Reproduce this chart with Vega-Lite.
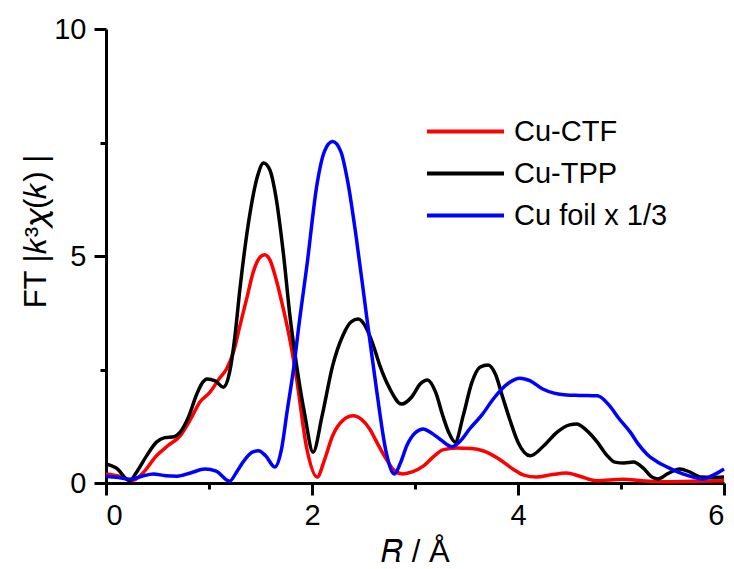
{
  "$schema": "https://vega.github.io/schema/vega-lite/v6.json",
  "width": 618,
  "height": 454,
  "padding": {"left": 20, "top": 15, "right": 0, "bottom": 0},
  "config": {
    "view": {"stroke": null},
    "font": "Liberation Sans",
    "axis": {"grid": false, "domainColor": "black", "tickColor": "black", "domainWidth": 3, "tickWidth": 3, "labelColor": "black", "titleColor": "black", "labelFont": "Liberation Sans", "titleFont": "Liberation Sans", "titleFontWeight": "normal"}
  },
  "data": {"values": [
      {"series": "Cu-CTF", "r": 0, "ft": 0.2},
      {"series": "Cu-CTF", "r": 0.13, "ft": 0.15},
      {"series": "Cu-CTF", "r": 0.26, "ft": 0.06},
      {"series": "Cu-CTF", "r": 0.35, "ft": 0.2},
      {"series": "Cu-CTF", "r": 0.49, "ft": 0.6},
      {"series": "Cu-CTF", "r": 0.6, "ft": 0.82},
      {"series": "Cu-CTF", "r": 0.72, "ft": 1.04},
      {"series": "Cu-CTF", "r": 0.82, "ft": 1.4},
      {"series": "Cu-CTF", "r": 0.91, "ft": 1.78},
      {"series": "Cu-CTF", "r": 1.01, "ft": 2.0},
      {"series": "Cu-CTF", "r": 1.1, "ft": 2.3},
      {"series": "Cu-CTF", "r": 1.17, "ft": 2.51},
      {"series": "Cu-CTF", "r": 1.24, "ft": 2.9},
      {"series": "Cu-CTF", "r": 1.3, "ft": 3.46},
      {"series": "Cu-CTF", "r": 1.37, "ft": 4.1},
      {"series": "Cu-CTF", "r": 1.43, "ft": 4.65},
      {"series": "Cu-CTF", "r": 1.49, "ft": 4.96},
      {"series": "Cu-CTF", "r": 1.54, "ft": 5.03},
      {"series": "Cu-CTF", "r": 1.59, "ft": 4.92},
      {"series": "Cu-CTF", "r": 1.65, "ft": 4.5},
      {"series": "Cu-CTF", "r": 1.72, "ft": 3.85},
      {"series": "Cu-CTF", "r": 1.79, "ft": 3.1},
      {"series": "Cu-CTF", "r": 1.85, "ft": 2.3},
      {"series": "Cu-CTF", "r": 1.95, "ft": 0.75},
      {"series": "Cu-CTF", "r": 2.05, "ft": 0.13},
      {"series": "Cu-CTF", "r": 2.12, "ft": 0.5},
      {"series": "Cu-CTF", "r": 2.2, "ft": 1.04},
      {"series": "Cu-CTF", "r": 2.3, "ft": 1.38},
      {"series": "Cu-CTF", "r": 2.4, "ft": 1.48},
      {"series": "Cu-CTF", "r": 2.48, "ft": 1.4},
      {"series": "Cu-CTF", "r": 2.56, "ft": 1.19},
      {"series": "Cu-CTF", "r": 2.64, "ft": 0.85},
      {"series": "Cu-CTF", "r": 2.72, "ft": 0.53},
      {"series": "Cu-CTF", "r": 2.8, "ft": 0.27},
      {"series": "Cu-CTF", "r": 2.88, "ft": 0.2},
      {"series": "Cu-CTF", "r": 2.98, "ft": 0.25},
      {"series": "Cu-CTF", "r": 3.08, "ft": 0.37},
      {"series": "Cu-CTF", "r": 3.18, "ft": 0.58},
      {"series": "Cu-CTF", "r": 3.27, "ft": 0.73},
      {"series": "Cu-CTF", "r": 3.4, "ft": 0.77},
      {"series": "Cu-CTF", "r": 3.55, "ft": 0.76},
      {"series": "Cu-CTF", "r": 3.66, "ft": 0.71},
      {"series": "Cu-CTF", "r": 3.8, "ft": 0.55},
      {"series": "Cu-CTF", "r": 3.95, "ft": 0.31},
      {"series": "Cu-CTF", "r": 4.05, "ft": 0.18},
      {"series": "Cu-CTF", "r": 4.18, "ft": 0.13},
      {"series": "Cu-CTF", "r": 4.32, "ft": 0.18},
      {"series": "Cu-CTF", "r": 4.47, "ft": 0.22},
      {"series": "Cu-CTF", "r": 4.6, "ft": 0.15},
      {"series": "Cu-CTF", "r": 4.76, "ft": 0.05},
      {"series": "Cu-CTF", "r": 5.02, "ft": 0.08},
      {"series": "Cu-CTF", "r": 5.2, "ft": 0.05},
      {"series": "Cu-CTF", "r": 5.44, "ft": 0.03},
      {"series": "Cu-CTF", "r": 5.7, "ft": 0.04},
      {"series": "Cu-CTF", "r": 6.0, "ft": 0.05},
      {"series": "Cu-TPP", "r": 0, "ft": 0.42},
      {"series": "Cu-TPP", "r": 0.1, "ft": 0.33},
      {"series": "Cu-TPP", "r": 0.23, "ft": 0.05},
      {"series": "Cu-TPP", "r": 0.3, "ft": 0.25},
      {"series": "Cu-TPP", "r": 0.4, "ft": 0.62},
      {"series": "Cu-TPP", "r": 0.49, "ft": 0.9},
      {"series": "Cu-TPP", "r": 0.57, "ft": 1.0},
      {"series": "Cu-TPP", "r": 0.66, "ft": 1.02},
      {"series": "Cu-TPP", "r": 0.72, "ft": 1.12},
      {"series": "Cu-TPP", "r": 0.8, "ft": 1.45},
      {"series": "Cu-TPP", "r": 0.88, "ft": 1.95},
      {"series": "Cu-TPP", "r": 0.94, "ft": 2.22},
      {"series": "Cu-TPP", "r": 0.98, "ft": 2.29},
      {"series": "Cu-TPP", "r": 1.06, "ft": 2.25},
      {"series": "Cu-TPP", "r": 1.14, "ft": 2.11},
      {"series": "Cu-TPP", "r": 1.2, "ft": 2.44},
      {"series": "Cu-TPP", "r": 1.25, "ft": 3.2},
      {"series": "Cu-TPP", "r": 1.3, "ft": 4.27},
      {"series": "Cu-TPP", "r": 1.4, "ft": 5.97},
      {"series": "Cu-TPP", "r": 1.47, "ft": 6.75},
      {"series": "Cu-TPP", "r": 1.53, "ft": 7.05},
      {"series": "Cu-TPP", "r": 1.59, "ft": 6.9},
      {"series": "Cu-TPP", "r": 1.65, "ft": 6.3},
      {"series": "Cu-TPP", "r": 1.72, "ft": 5.1},
      {"series": "Cu-TPP", "r": 1.79, "ft": 3.6},
      {"series": "Cu-TPP", "r": 1.85, "ft": 2.6},
      {"series": "Cu-TPP", "r": 1.93, "ft": 1.5},
      {"series": "Cu-TPP", "r": 2.01, "ft": 0.68},
      {"series": "Cu-TPP", "r": 2.1, "ft": 1.5},
      {"series": "Cu-TPP", "r": 2.2, "ft": 2.58},
      {"series": "Cu-TPP", "r": 2.3, "ft": 3.25},
      {"series": "Cu-TPP", "r": 2.38, "ft": 3.55},
      {"series": "Cu-TPP", "r": 2.45, "ft": 3.61},
      {"series": "Cu-TPP", "r": 2.53, "ft": 3.4},
      {"series": "Cu-TPP", "r": 2.6, "ft": 3.0},
      {"series": "Cu-TPP", "r": 2.66, "ft": 2.58},
      {"series": "Cu-TPP", "r": 2.75, "ft": 2.1},
      {"series": "Cu-TPP", "r": 2.87, "ft": 1.74},
      {"series": "Cu-TPP", "r": 2.97, "ft": 1.9},
      {"series": "Cu-TPP", "r": 3.05, "ft": 2.18},
      {"series": "Cu-TPP", "r": 3.12, "ft": 2.27},
      {"series": "Cu-TPP", "r": 3.2, "ft": 2.0},
      {"series": "Cu-TPP", "r": 3.27, "ft": 1.48},
      {"series": "Cu-TPP", "r": 3.33, "ft": 1.1},
      {"series": "Cu-TPP", "r": 3.39, "ft": 0.9},
      {"series": "Cu-TPP", "r": 3.47, "ft": 1.5},
      {"series": "Cu-TPP", "r": 3.55, "ft": 2.2},
      {"series": "Cu-TPP", "r": 3.63, "ft": 2.55},
      {"series": "Cu-TPP", "r": 3.71, "ft": 2.6},
      {"series": "Cu-TPP", "r": 3.78, "ft": 2.4},
      {"series": "Cu-TPP", "r": 3.85, "ft": 1.9},
      {"series": "Cu-TPP", "r": 3.92, "ft": 1.4},
      {"series": "Cu-TPP", "r": 4.0, "ft": 0.9},
      {"series": "Cu-TPP", "r": 4.12, "ft": 0.6},
      {"series": "Cu-TPP", "r": 4.25, "ft": 0.82},
      {"series": "Cu-TPP", "r": 4.38, "ft": 1.12},
      {"series": "Cu-TPP", "r": 4.5, "ft": 1.28},
      {"series": "Cu-TPP", "r": 4.57, "ft": 1.3},
      {"series": "Cu-TPP", "r": 4.66, "ft": 1.17},
      {"series": "Cu-TPP", "r": 4.77, "ft": 0.9},
      {"series": "Cu-TPP", "r": 4.86, "ft": 0.62},
      {"series": "Cu-TPP", "r": 4.94, "ft": 0.46},
      {"series": "Cu-TPP", "r": 5.03, "ft": 0.44},
      {"series": "Cu-TPP", "r": 5.12, "ft": 0.46},
      {"series": "Cu-TPP", "r": 5.22, "ft": 0.32},
      {"series": "Cu-TPP", "r": 5.3, "ft": 0.13},
      {"series": "Cu-TPP", "r": 5.36, "ft": 0.09},
      {"series": "Cu-TPP", "r": 5.45, "ft": 0.2},
      {"series": "Cu-TPP", "r": 5.57, "ft": 0.31},
      {"series": "Cu-TPP", "r": 5.67, "ft": 0.24},
      {"series": "Cu-TPP", "r": 5.77, "ft": 0.13},
      {"series": "Cu-TPP", "r": 5.88, "ft": 0.12},
      {"series": "Cu-TPP", "r": 6.0, "ft": 0.13},
      {"series": "Cu foil x 1/3", "r": 0, "ft": 0.15},
      {"series": "Cu foil x 1/3", "r": 0.12, "ft": 0.12},
      {"series": "Cu foil x 1/3", "r": 0.23, "ft": 0.08},
      {"series": "Cu foil x 1/3", "r": 0.35, "ft": 0.15},
      {"series": "Cu foil x 1/3", "r": 0.46, "ft": 0.2},
      {"series": "Cu foil x 1/3", "r": 0.58, "ft": 0.16},
      {"series": "Cu foil x 1/3", "r": 0.69, "ft": 0.15},
      {"series": "Cu foil x 1/3", "r": 0.82, "ft": 0.22},
      {"series": "Cu foil x 1/3", "r": 0.96, "ft": 0.31},
      {"series": "Cu foil x 1/3", "r": 1.07, "ft": 0.26},
      {"series": "Cu foil x 1/3", "r": 1.2, "ft": 0.04},
      {"series": "Cu foil x 1/3", "r": 1.27, "ft": 0.25},
      {"series": "Cu foil x 1/3", "r": 1.33, "ft": 0.46},
      {"series": "Cu foil x 1/3", "r": 1.42, "ft": 0.68},
      {"series": "Cu foil x 1/3", "r": 1.48, "ft": 0.71},
      {"series": "Cu foil x 1/3", "r": 1.55, "ft": 0.6},
      {"series": "Cu foil x 1/3", "r": 1.64, "ft": 0.35},
      {"series": "Cu foil x 1/3", "r": 1.7, "ft": 0.7},
      {"series": "Cu foil x 1/3", "r": 1.76, "ft": 1.6},
      {"series": "Cu foil x 1/3", "r": 1.82, "ft": 2.5},
      {"series": "Cu foil x 1/3", "r": 1.88, "ft": 3.6},
      {"series": "Cu foil x 1/3", "r": 1.95, "ft": 4.78},
      {"series": "Cu foil x 1/3", "r": 2.05, "ft": 6.6},
      {"series": "Cu foil x 1/3", "r": 2.12, "ft": 7.3},
      {"series": "Cu foil x 1/3", "r": 2.2, "ft": 7.52},
      {"series": "Cu foil x 1/3", "r": 2.28, "ft": 7.3},
      {"series": "Cu foil x 1/3", "r": 2.35, "ft": 6.6},
      {"series": "Cu foil x 1/3", "r": 2.43, "ft": 5.4},
      {"series": "Cu foil x 1/3", "r": 2.53, "ft": 3.68},
      {"series": "Cu foil x 1/3", "r": 2.63, "ft": 2.0},
      {"series": "Cu foil x 1/3", "r": 2.72, "ft": 0.68},
      {"series": "Cu foil x 1/3", "r": 2.8, "ft": 0.2},
      {"series": "Cu foil x 1/3", "r": 2.86, "ft": 0.45},
      {"series": "Cu foil x 1/3", "r": 2.92, "ft": 0.82},
      {"series": "Cu foil x 1/3", "r": 3.0, "ft": 1.1},
      {"series": "Cu foil x 1/3", "r": 3.08, "ft": 1.19},
      {"series": "Cu foil x 1/3", "r": 3.16, "ft": 1.1},
      {"series": "Cu foil x 1/3", "r": 3.24, "ft": 0.97},
      {"series": "Cu foil x 1/3", "r": 3.36, "ft": 0.8},
      {"series": "Cu foil x 1/3", "r": 3.45, "ft": 0.95},
      {"series": "Cu foil x 1/3", "r": 3.53, "ft": 1.19},
      {"series": "Cu foil x 1/3", "r": 3.65, "ft": 1.5},
      {"series": "Cu foil x 1/3", "r": 3.76, "ft": 1.85},
      {"series": "Cu foil x 1/3", "r": 3.88, "ft": 2.15},
      {"series": "Cu foil x 1/3", "r": 4.02, "ft": 2.31},
      {"series": "Cu foil x 1/3", "r": 4.12, "ft": 2.25},
      {"series": "Cu foil x 1/3", "r": 4.24, "ft": 2.07},
      {"series": "Cu foil x 1/3", "r": 4.35, "ft": 1.98},
      {"series": "Cu foil x 1/3", "r": 4.47, "ft": 1.94},
      {"series": "Cu foil x 1/3", "r": 4.6, "ft": 1.93},
      {"series": "Cu foil x 1/3", "r": 4.77, "ft": 1.92},
      {"series": "Cu foil x 1/3", "r": 4.89, "ft": 1.7},
      {"series": "Cu foil x 1/3", "r": 4.98, "ft": 1.42},
      {"series": "Cu foil x 1/3", "r": 5.09, "ft": 1.12},
      {"series": "Cu foil x 1/3", "r": 5.17, "ft": 0.85},
      {"series": "Cu foil x 1/3", "r": 5.25, "ft": 0.64},
      {"series": "Cu foil x 1/3", "r": 5.35, "ft": 0.47},
      {"series": "Cu foil x 1/3", "r": 5.45, "ft": 0.35},
      {"series": "Cu foil x 1/3", "r": 5.6, "ft": 0.2},
      {"series": "Cu foil x 1/3", "r": 5.7, "ft": 0.13},
      {"series": "Cu foil x 1/3", "r": 5.79, "ft": 0.09},
      {"series": "Cu foil x 1/3", "r": 5.9, "ft": 0.18},
      {"series": "Cu foil x 1/3", "r": 6.0, "ft": 0.31}
  ]},
  "layer": [
    {
      "mark": {"type": "line", "opacity": 0},
      "encoding": {
        "x": {"field": "r", "type": "quantitative", "scale": {"domain": [0, 6], "nice": false, "zero": false},
              "axis": {"orient": "bottom", "values": [1, 3, 5], "labels": false, "domain": false, "tickSize": 6, "title": null}},
        "y": {"field": "ft", "type": "quantitative", "scale": {"domain": [0, 10], "nice": false},
              "axis": {"orient": "left", "values": [2.5, 7.5], "labels": false, "domain": false, "tickSize": 6, "title": null}},
        "detail": {"field": "series"}
      }
    },
    {
      "mark": {"type": "line", "strokeWidth": 3.5, "interpolate": "monotone"},
      "encoding": {
        "x": {"field": "r", "type": "quantitative",
              "axis": {"orient": "bottom", "values": [0, 2, 4, 6], "tickSize": 12,
                       "labelFontSize": 29, "labelPadding": 6,
                       "title": "𝑅 / Å", "titleFontSize": 31, "titleBaseline": "middle", "titleY": 69}},
        "y": {"field": "ft", "type": "quantitative",
              "axis": {"orient": "left", "values": [0, 5, 10], "tickSize": 12,
                       "labelFontSize": 29, "labelPadding": 8,
                       "title": "FT |𝑘³𝜒(𝑘) |", "titleFontSize": 31, "titleBaseline": "middle", "titleAlign": "center", "titleX": -70, "titleY": 202}},
        "color": {"field": "series", "type": "nominal",
                  "scale": {"domain": ["Cu-CTF", "Cu-TPP", "Cu foil x 1/3"], "range": ["#ff0000", "#000000", "#0000ff"]},
                  "legend": {"title": null, "orient": "none", "legendX": 319, "legendY": 88, "symbolType": "stroke", "symbolSize": 5929,
                             "symbolStrokeWidth": 4, "labelFontSize": 29, "labelFont": "Liberation Sans", "labelColor": "black",
                             "labelOffset": 8, "rowPadding": 12, "clipHeight": 29, "labelLimit": 400}}
      }
    }
  ],
  "resolve": {"axis": {"x": "independent", "y": "independent"}}
}
